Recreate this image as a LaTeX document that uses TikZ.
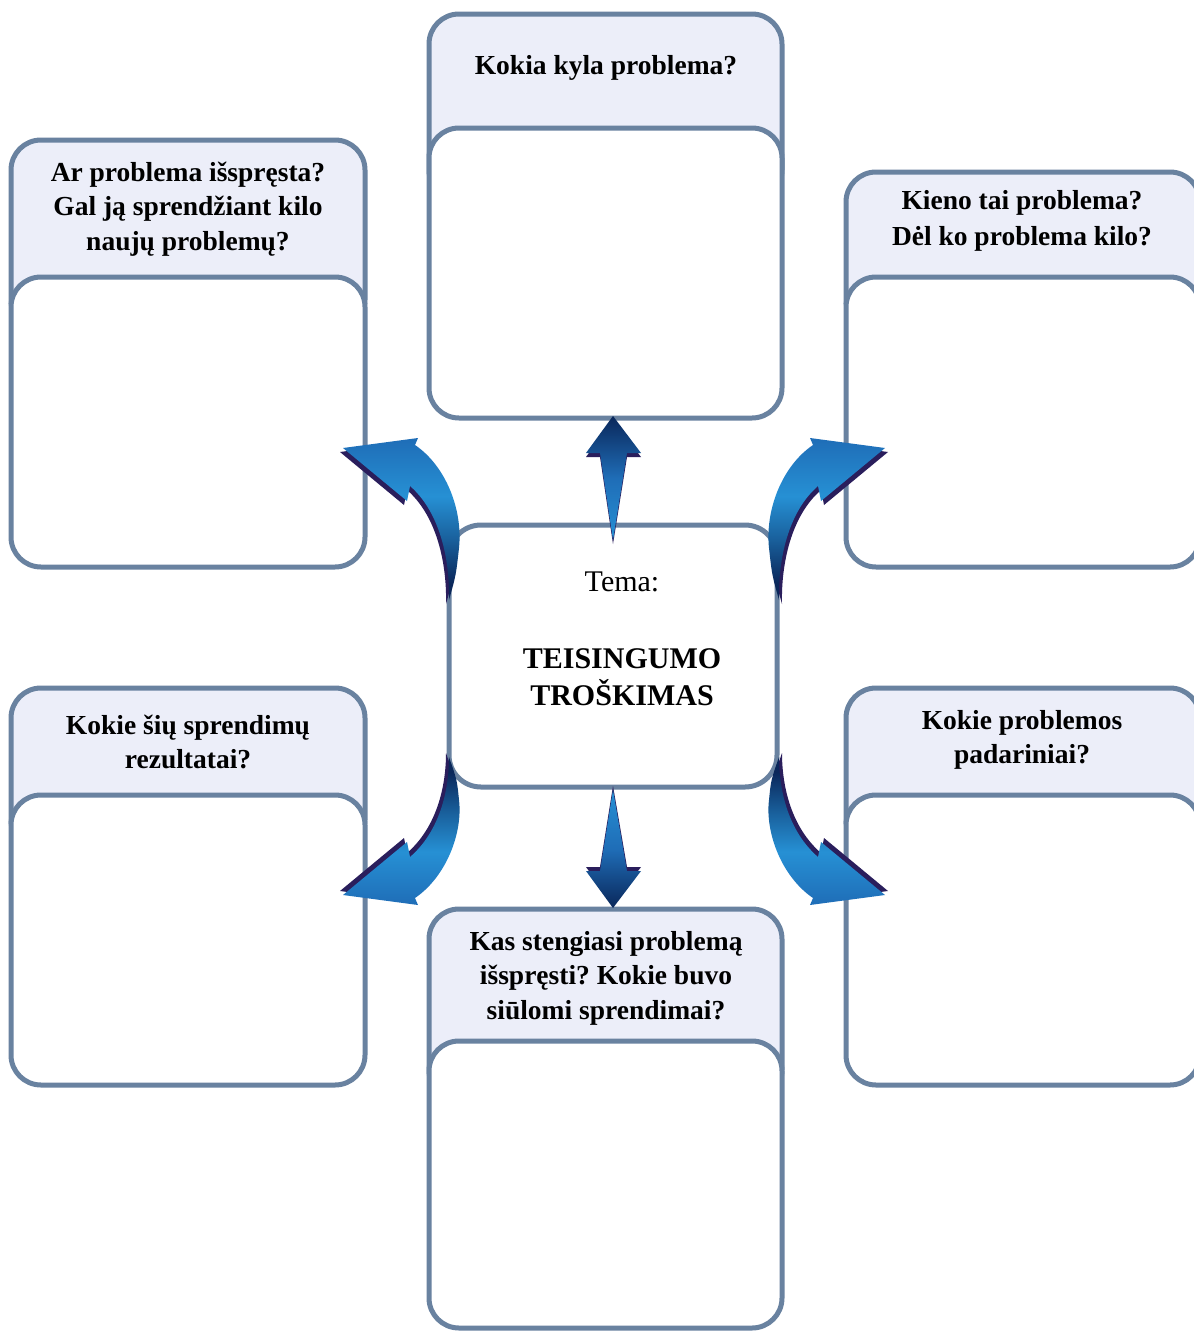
\documentclass[tikz,border=0pt]{standalone}
\usepackage{fontspec}
\setmainfont{Liberation Serif}
\frenchspacing
\definecolor{edge}{HTML}{6982A0}
\definecolor{lav}{HTML}{ECEEF9}
\definecolor{navy}{HTML}{0A275A}
\definecolor{lblue}{HTML}{2690D4}
\definecolor{mblue}{HTML}{1F6DB7}
\definecolor{shadowc}{HTML}{2A1E5C}
\pgfdeclareverticalshading{curvup}{100bp}{color(0bp)=(navy); color(30bp)=(navy); color(44bp)=(lblue!55!navy); color(57bp)=(lblue); color(75bp)=(mblue); color(100bp)=(mblue)}
\pgfdeclareverticalshading{curvdown}{100bp}{color(0bp)=(mblue); color(25bp)=(mblue); color(43bp)=(lblue); color(56bp)=(lblue!55!navy); color(70bp)=(navy); color(100bp)=(navy)}
\pgfdeclareverticalshading{upshade}{100bp}{color(0bp)=(lblue); color(25bp)=(lblue); color(50bp)=(mblue); color(75bp)=(navy); color(100bp)=(navy)}
\pgfdeclareverticalshading{downshade}{100bp}{color(0bp)=(navy); color(25bp)=(navy); color(50bp)=(mblue); color(75bp)=(lblue); color(100bp)=(lblue)}
\newcommand{\arrowTL}{(343,448) -- (418,438) -- (415,445) .. controls (446,466) and (463,510) .. (459,548) .. controls (456,575) .. (449,600) .. controls (450,560) and (440,512) .. (410,486) -- (407,501) -- cycle}
\newcommand{\arrowTR}{(885,448) -- (810,438) -- (813,445) .. controls (782,466) and (765,510) .. (769,548) .. controls (772,575) .. (779,600) .. controls (778,560) and (788,512) .. (818,486) -- (821,501) -- cycle}
\newcommand{\arrowBL}{(343,895) -- (418,905) -- (415,898) .. controls (446,877) and (463,833) .. (459,800) .. controls (457,780) .. (449,757) .. controls (449,790) and (440,831) .. (410,857) -- (407,842) -- cycle}
\newcommand{\arrowBR}{(885,895) -- (810,905) -- (813,898) .. controls (782,877) and (765,833) .. (769,800) .. controls (771,780) .. (779,757) .. controls (779,790) and (788,831) .. (818,857) -- (821,842) -- cycle}
\newcommand{\arrowUp}{(613,416) -- (641,453) -- (627,453) -- (613,540) -- (600,453) -- (586,453) -- cycle}
\newcommand{\arrowDown}{(613,908) -- (641,871) -- (627,871) -- (613,790) -- (600,871) -- (586,871) -- cycle}
\begin{document}
\begin{tikzpicture}[x=1pt,y=-1pt,
  hdr/.style={draw=edge, fill=lav, line width=5pt, rounded corners=30pt},
  bdy/.style={draw=edge, fill=white, line width=5pt, rounded corners=30pt},
  qtext/.style={font=\bfseries\fontsize{27.5pt}{34.5pt}\selectfont, align=center, inner sep=0pt}]
\useasboundingbox (0,0) rectangle (1194,1331);
\clip (0,0) rectangle (1194,1331);
\fill[white] (0,0) rectangle (1194,1331);
% top centre
\draw[hdr] (429,14) rectangle (782,200);
\draw[bdy] (429,128) rectangle (782,418);
\node[qtext] (q1) at (606,68) {Kokia kyla problema?};
% top left
\draw[hdr] (11,140) rectangle (365,330);
\draw[bdy] (11,277) rectangle (365,567);
\node[qtext] (q2) at (188,209) {Ar problema išspręsta?\\Gal ją sprendžiant kilo\\naujų problemų?};
% top right
\draw[hdr] (846,172) rectangle (1200,330);
\draw[bdy] (846,277) rectangle (1200,567);
\node[qtext, font=\bfseries\fontsize{27.5pt}{36pt}\selectfont] (q3) at (1022,221) {Kieno tai problema?\\Dėl ko problema kilo?};
% bottom left
\draw[hdr] (11,688) rectangle (365,850);
\draw[bdy] (11,795) rectangle (365,1085);
\node[qtext] (q4) at (188,742) {Kokie šių sprendimų\\rezultatai?};
% bottom right
\draw[hdr] (846,688) rectangle (1200,850);
\draw[bdy] (846,795) rectangle (1200,1085);
\node[qtext] (q5) at (1022,740) {Kokie problemos\\padariniai?};
% bottom centre
\draw[hdr] (429,909) rectangle (782,1100);
\draw[bdy] (429,1041) rectangle (782,1328);
\node[qtext] (q6) at (606,978) {Kas stengiasi problemą\\išspręsti? Kokie buvo\\siūlomi sprendimai?};
% centre
\draw[bdy, rounded corners=32pt] (449,525) rectangle (777,787);
\node[font=\fontsize{30pt}{37pt}\selectfont, inner sep=0pt] (tema) at (622,582) {Tema:};
\node[font=\bfseries\fontsize{30pt}{37pt}\selectfont, align=center, inner sep=0pt] (title) at (622,677) {TEISINGUMO\\TROŠKIMAS};
% arrows
\fill[shadowc, shift={(-3,4)}] \arrowTL;
\shade[shading=curvup] \arrowTL;
\fill[shadowc, shift={(3,4)}] \arrowTR;
\shade[shading=curvup] \arrowTR;
\fill[shadowc, shift={(-3,-4)}] \arrowBL;
\shade[shading=curvdown] \arrowBL;
\fill[shadowc, shift={(3,-4)}] \arrowBR;
\shade[shading=curvdown] \arrowBR;
\fill[shadowc, shift={(0,4)}] \arrowUp;
\shade[shading=upshade] \arrowUp;
\fill[shadowc, shift={(0,-4)}] \arrowDown;
\shade[shading=downshade] \arrowDown;
\end{tikzpicture}
\end{document}
